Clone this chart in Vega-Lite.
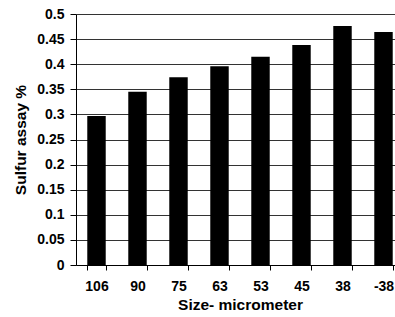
{
  "$schema": "https://vega.github.io/schema/vega-lite/v6.json",
  "autosize": "none",
  "width": 328,
  "height": 251,
  "padding": {"left": 76, "top": 14, "right": 0, "bottom": 52},
  "background": "white",
  "config": {"view": {"stroke": null}},
  "data": {"values": [
    {"size": "106", "sulfur": 0.297},
    {"size": "90", "sulfur": 0.345},
    {"size": "75", "sulfur": 0.374},
    {"size": "63", "sulfur": 0.396},
    {"size": "53", "sulfur": 0.415},
    {"size": "45", "sulfur": 0.438},
    {"size": "38", "sulfur": 0.476},
    {"size": "-38", "sulfur": 0.464}
  ]},
  "mark": {"type": "bar", "color": "black"},
  "encoding": {
    "x": {
      "field": "size", "type": "nominal", "sort": null,
      "scale": {"paddingInner": 0.55, "paddingOuter": 0.275},
      "axis": {
        "title": "Size- micrometer", "labelAngle": 0,
        "labelFont": "Liberation Sans", "labelFontWeight": "bold", "labelFontSize": 14, "labelColor": "black",
        "titleFont": "Liberation Sans", "titleFontWeight": "bold", "titleFontSize": 15.5, "titleColor": "black",
        "domainColor": "black", "tickColor": "black", "tickSize": 5, "tickBand": "extent",
        "labelPadding": 9, "titlePadding": 4, "grid": false
      }
    },
    "y": {
      "field": "sulfur", "type": "quantitative",
      "scale": {"domain": [0, 0.5]},
      "axis": {
        "title": "Sulfur assay %", "values": [0, 0.05, 0.1, 0.15, 0.2, 0.25, 0.3, 0.35, 0.4, 0.45, 0.5],
        "format": "~g",
        "labelFont": "Liberation Sans", "labelFontWeight": "bold", "labelFontSize": 14, "labelColor": "black",
        "titleFont": "Liberation Sans", "titleFontWeight": "bold", "titleFontSize": 15.5, "titleColor": "black",
        "domainColor": "black", "tickColor": "black", "tickSize": 6, "labelPadding": 6, "titlePadding": 8,
        "grid": true, "gridColor": "black", "gridOpacity": 0.8
      }
    }
  }
}
